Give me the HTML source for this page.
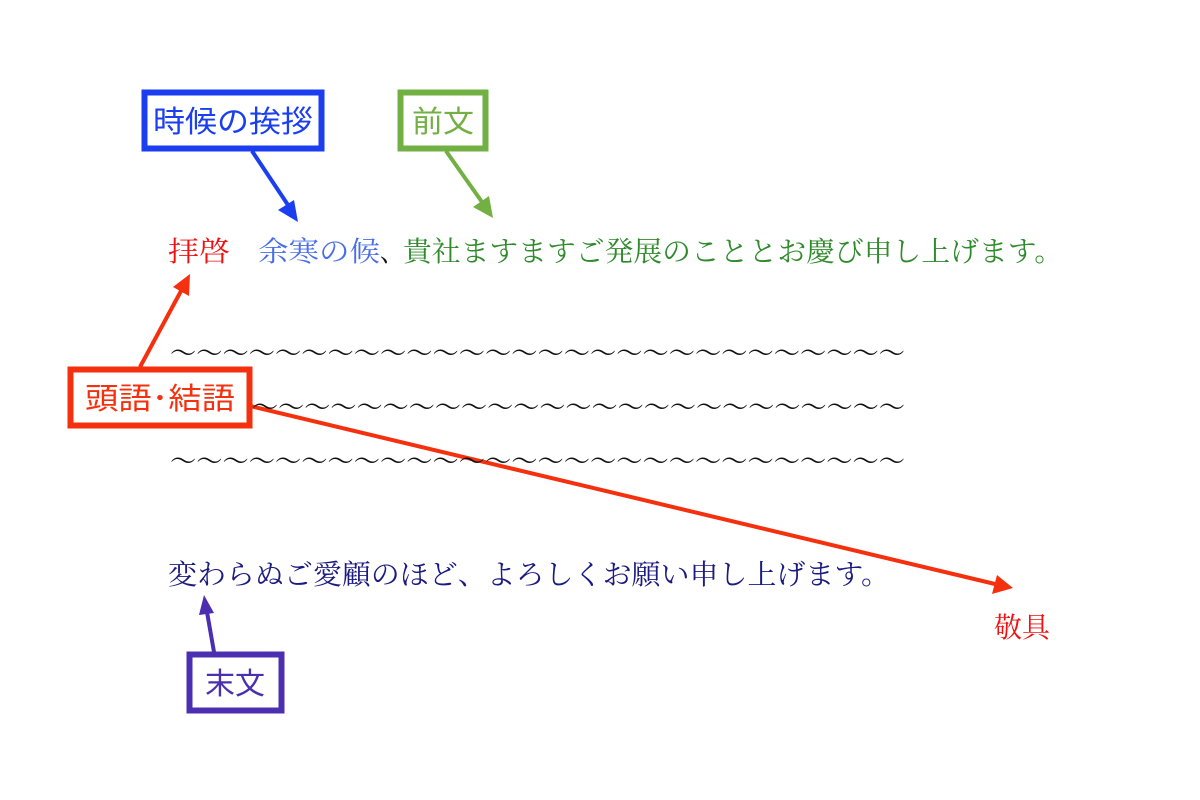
<!DOCTYPE html>
<html><head><meta charset="utf-8"><style>
html,body{margin:0;padding:0;background:#fff;}
svg{display:block;}
.s{font-family:"Liberation Serif","Noto Serif CJK SC",serif;font-size:28px;}
.g{font-family:"Liberation Sans","Noto Sans CJK JP",sans-serif;font-size:30px;font-weight:normal;}
</style></head><body>
<svg width="1200" height="800" viewBox="0 0 1200 800" xmlns="http://www.w3.org/2000/svg">
<rect x="144.5" y="92.5" width="177" height="56" fill="#fff" stroke="#1a3ef0" stroke-width="6"/>
<text class="g" x="233" y="132" text-anchor="middle" fill="#1a3ef0" textLength="160" lengthAdjust="spacingAndGlyphs">時候の挨拶</text>
<rect x="400.5" y="92.5" width="85" height="56" fill="#fff" stroke="#72b043" stroke-width="6"/>
<text class="g" x="443" y="132" text-anchor="middle" fill="#72b043" textLength="62" lengthAdjust="spacingAndGlyphs">前文</text>
<rect x="70.5" y="369.5" width="179" height="56" fill="#fff" stroke="#f5300f" stroke-width="6"/>
<text class="g" x="160" y="409" text-anchor="middle" fill="#f5300f" textLength="150" lengthAdjust="spacingAndGlyphs">頭語･結語</text>
<rect x="189.5" y="654.5" width="92" height="56" fill="#fff" stroke="#4b2fb0" stroke-width="6"/>
<text class="g" x="235" y="694" text-anchor="middle" fill="#4b2fb0" textLength="60" lengthAdjust="spacingAndGlyphs">末文</text>
<line x1="252" y1="151" x2="288" y2="205" stroke="#1a3ef0" stroke-width="4"/>
<polygon points="298,222 278,210 294,200" fill="#1a3ef0"/>
<line x1="446" y1="151" x2="482" y2="202" stroke="#72b043" stroke-width="4"/>
<polygon points="493,218 473,207 489,196" fill="#72b043"/>
<line x1="140" y1="367" x2="181" y2="291" stroke="#f5300f" stroke-width="4"/>
<polygon points="190,274 189,296 173,287" fill="#f5300f"/>
<line x1="250" y1="406" x2="995" y2="584" stroke="#f5300f" stroke-width="4"/>
<polygon points="1013,588 992,594 997,575" fill="#f5300f"/>
<line x1="214" y1="652" x2="207" y2="612" stroke="#4b2fb0" stroke-width="4"/>
<polygon points="204,595 214,613 199,615" fill="#4b2fb0"/>
<text class="s" x="168" y="261" textLength="62" lengthAdjust="spacingAndGlyphs" fill="#f01010">拝啓</text>
<text class="s" x="258" y="261" textLength="122" lengthAdjust="spacingAndGlyphs" fill="#4a6ee8">余寒の候</text>
<text class="s" x="380" y="261" textLength="24" lengthAdjust="spacingAndGlyphs" fill="#111">、</text>
<text class="s" x="403" y="261" textLength="660" lengthAdjust="spacingAndGlyphs" fill="#2e8a2a">貴社ますますご発展のこととお慶び申し上げます。</text>
<text class="s" x="170" y="363" textLength="735" lengthAdjust="spacingAndGlyphs" fill="#111">～～～～～～～～～～～～～～～～～～～～～～～～～～～～</text>
<text class="s" x="252" y="417" textLength="653" lengthAdjust="spacingAndGlyphs" fill="#111">～～～～～～～～～～～～～～～～～～～～～～～～～</text>
<text class="s" x="170" y="471" textLength="735" lengthAdjust="spacingAndGlyphs" fill="#111">～～～～～～～～～～～～～～～～～～～～～～～～～～～～</text>
<text class="s" x="168" y="584" textLength="722" lengthAdjust="spacingAndGlyphs" fill="#1a1a80">変わらぬご愛顧のほど、よろしくお願い申し上げます。</text>
<text class="s" x="994" y="637" textLength="56" lengthAdjust="spacingAndGlyphs" fill="#f01010">敬具</text>
</svg>
</body></html>
